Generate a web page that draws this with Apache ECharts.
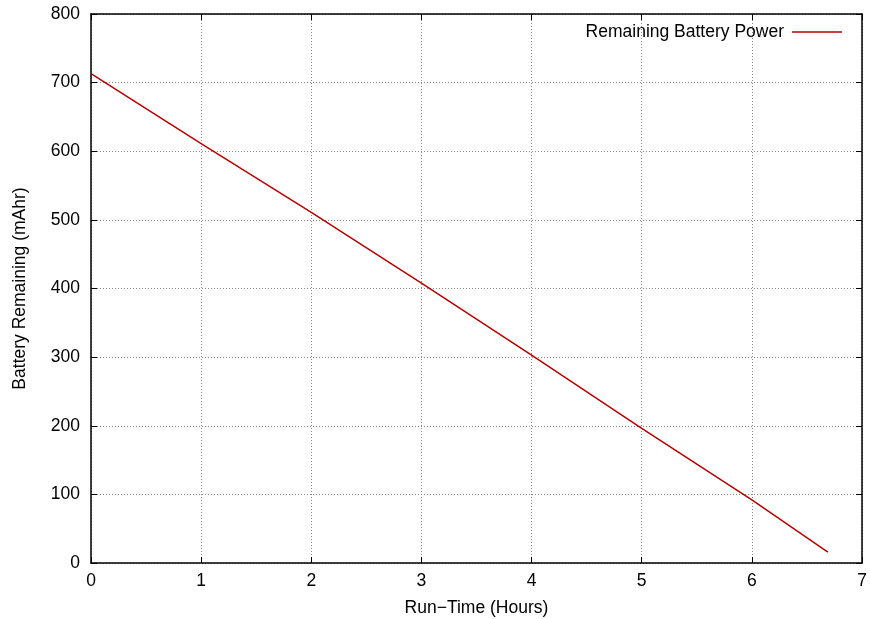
<!DOCTYPE html>
<html>
<head>
<meta charset="utf-8">
<script src="https://cdn.jsdelivr.net/npm/echarts@6/dist/echarts.min.js"></script>
<style>
  html, body { margin: 0; padding: 0; background: #fff; }
  #main { width: 870px; height: 619px; }
</style>
</head>
<body>
<div id="main"></div>
<script>
// run time in hours and remaining battery in mAhr
var runTime = [0, 1, 2, 3, 4, 5, 6, 6.69];
var batteryLeft = [713, 611, 511, 408, 303, 196, 92, 16];
var seriesName = 'Remaining Battery Power';

var points = [];
for (var i = 0; i < runTime.length; i++) {
    points.push([runTime[i], batteryLeft[i]]);
}

var font = 'Liberation Sans, Arial, sans-serif';
var fs = 17.5;
var axisLine = { show: true, onZero: false, lineStyle: { color: '#000', width: 1.5 } };
var tick = { show: true, inside: true, length: 6, lineStyle: { color: '#000', width: 1 } };
var grid = { show: true, lineStyle: { color: '#888', type: [1, 2], width: 1 } };

var myChart = echarts.init(document.getElementById('main'));
myChart.setOption({
    animation: false,
    backgroundColor: '#fff',
    grid: { left: 91, right: 8, top: 14, bottom: 56, containLabel: false, outerBoundsMode: 'none' },
    legend: {
        data: [seriesName],
        right: 28,
        top: 23,
        padding: 0,
        align: 'right',
        icon: 'rect',
        itemWidth: 50,
        itemHeight: 1.5,
        itemGap: 0,
        textStyle: { fontFamily: font, fontSize: fs, color: '#000', padding: [0, 3, 0, 0] }
    },
    xAxis: [{
        type: 'value',
        min: 0, max: 7, interval: 1,
        name: 'Run\u2212Time (Hours)',
        nameLocation: 'middle',
        nameGap: 36,
        nameTextStyle: { fontFamily: font, fontSize: fs, color: '#000' },
        axisLine: axisLine,
        axisTick: tick,
        axisLabel: { fontFamily: font, fontSize: fs, color: '#000', margin: 9 },
        splitLine: grid
    }, {
        type: 'value',
        position: 'top',
        min: 0, max: 7, interval: 1,
        axisLine: axisLine,
        axisTick: tick,
        axisLabel: { show: false },
        splitLine: { show: false }
    }],
    yAxis: [{
        type: 'value',
        min: 0, max: 800, interval: 100,
        name: 'Battery Remaining (mAhr)',
        nameLocation: 'middle',
        nameGap: 62,
        nameTextStyle: { fontFamily: font, fontSize: fs, color: '#000' },
        axisLine: axisLine,
        axisTick: tick,
        axisLabel: { fontFamily: font, fontSize: fs, color: '#000', margin: 11 },
        splitLine: grid
    }, {
        type: 'value',
        position: 'right',
        min: 0, max: 800, interval: 100,
        axisLine: axisLine,
        axisTick: tick,
        axisLabel: { show: false },
        splitLine: { show: false }
    }],
    series: [{
        name: seriesName,
        type: 'line',
        data: points,
        showSymbol: false,
        symbol: 'none',
        lineStyle: { color: '#b40000', width: 1.5 },
        itemStyle: { color: '#b40000' }
    }]
});
</script>
</body>
</html>
